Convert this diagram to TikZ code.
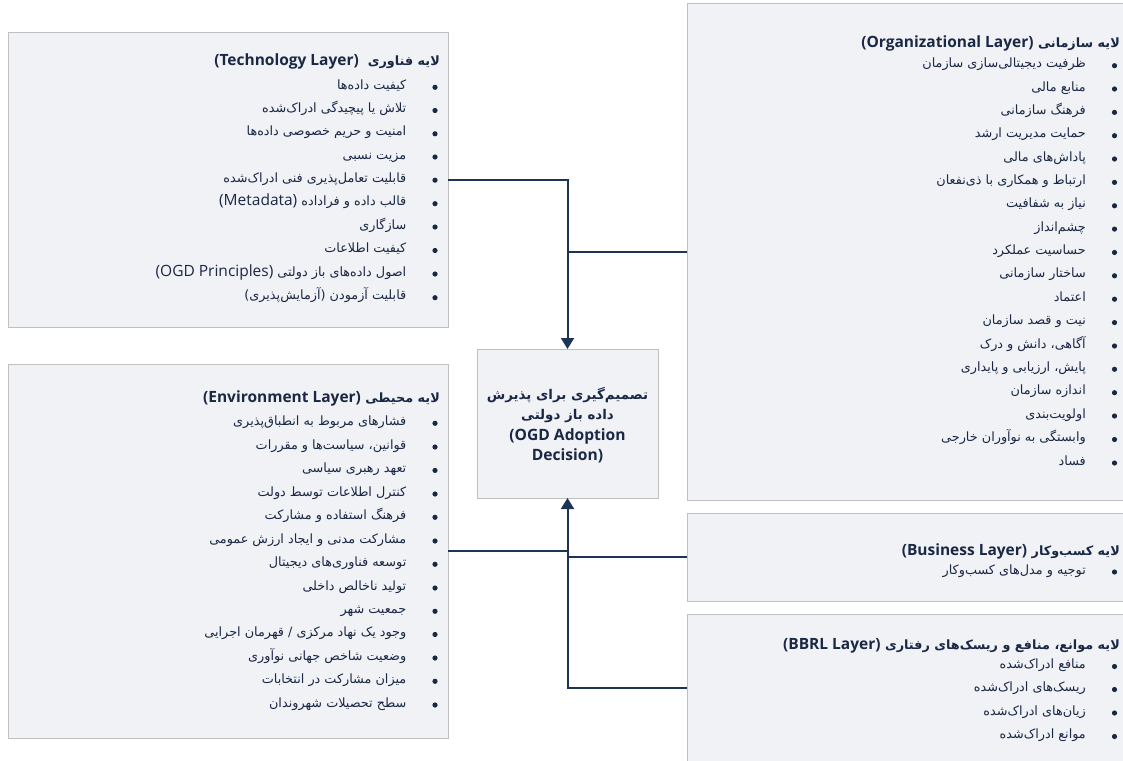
\documentclass[tikz,border=0pt]{standalone}
\usepackage{fontspec}
\usetikzlibrary{arrows.meta}
\TeXXeTstate=1
\newfontfamily\fa[Script=Arabic]{DejaVu Sans}
\newfontfamily\lat{Open Sans}
\definecolor{boxfill}{RGB}{240,242,245}
\definecolor{boxline}{RGB}{192,192,192}
\definecolor{navy}{RGB}{30,52,84}
\definecolor{txt}{RGB}{26,40,70}
\newcommand\latB{\lat\bfseries\fontsize{15.5}{16}\selectfont}
\newcommand\latR{\lat\fontsize{15.5}{16}\selectfont}
\newcommand\bitem[4]{%
  \node[bul] (#1b) at (#2,#3) {};
  \node[itm] (#1) at (#2-28.5,#3) {#4};}
\newcommand\ltitle[4]{%
  \node[ttl] (#1) at (#2,#3) {#4};}
\begin{document}
\begin{tikzpicture}[x=1pt,y=-1pt,
  box/.style={draw=boxline, fill=boxfill, line width=1pt, inner sep=0pt, outer sep=0pt},
  bul/.style={circle, fill=txt, minimum size=5.2pt, inner sep=0pt},
  itm/.style={anchor=mid east, inner sep=0pt, text=txt, font=\fa\fontsize{12.8}{15}\selectfont},
  ttl/.style={anchor=mid east, inner sep=0pt, text=txt, font=\fa\bfseries\fontsize{12.8}{15}\selectfont},
  conn/.style={draw=navy, line width=2pt},
  arr/.style={conn, -{Triangle[width=13pt,length=11pt]}},
]
\useasboundingbox (0,0) rectangle (1123,760);

% boxes
\node[box, minimum width=440pt, minimum height=294pt] (tech) at (228,180) {};
\node[box, minimum width=440pt, minimum height=374pt] (env) at (228,551) {};
\node[box, minimum width=450pt, minimum height=496pt] (org) at (912,252) {};
\node[box, minimum width=450pt, minimum height=88pt] (bus) at (912,557) {};
\node[box, minimum width=450pt, minimum height=148pt] (bbrl) at (912,688) {};
\node[box, minimum width=181pt, minimum height=149pt] (dec) at (567.5,423.5) {};

% decision text
\node[align=center, text=txt, inner sep=0pt, font=\fa\bfseries\fontsize{13.4}{20.5}\selectfont] (dect) at (567.5,425)
  {\beginR تصمیم‌گیری برای پذیرش\endR\\ \beginR داده باز دولتی\endR\\
   {\lat\bfseries\fontsize{15.6}{20.5}\selectfont (OGD Adoption}\\
   {\lat\bfseries\fontsize{15.6}{20.5}\selectfont Decision)}};

% connectors
\draw[arr] (tech.east) -| (dec.north);
\draw[conn] (org.west) -- (org.west -| dec.north);
\draw[conn] (env.east) -- (env.east -| dec.south);
\draw[conn] (bus.west) -- (bus.west -| dec.south);
\draw[arr] (bbrl.west) -| (dec.south);

% Technology layer
\ltitle{techt}{440}{63.5}{\beginR لایه فناوری \ \beginL{\latB (Technology Layer)}\endL\endR}
\bitem{t1}{435}{87.3}{\beginR کیفیت داده‌ها\endR}
\bitem{t2}{435}{110.5}{\beginR تلاش یا پیچیدگی ادراک‌شده\endR}
\bitem{t3}{435}{133.8}{\beginR امنیت و حریم خصوصی داده‌ها\endR}
\bitem{t4}{435}{157}{\beginR مزیت نسبی\endR}
\bitem{t5}{435}{180.2}{\beginR قابلیت تعامل‌پذیری فنی ادراک‌شده\endR}
\bitem{t6}{435}{203.7}{\beginR قالب داده و فراداده \beginL{\latR(Metadata)}\endL\endR}
\bitem{t7}{435}{227}{\beginR سازگاری\endR}
\bitem{t8}{435}{250.5}{\beginR کیفیت اطلاعات\endR}
\bitem{t9}{435}{274}{\beginR اصول داده‌های باز دولتی \beginL{\latR(OGD Principles)}\endL\endR}
\bitem{t10}{435}{297.7}{\beginR قابلیت آزمودن (آزمایش‌پذیری)\endR}

% Environment layer
\ltitle{envt}{440}{400}{\beginR لایه محیطی \beginL{\latB(Environment Layer)}\endL\endR}
\bitem{e1}{435}{423.3}{\beginR فشارهای مربوط به انطباق‌پذیری\endR}
\bitem{e2}{435}{447}{\beginR قوانین، سیاست‌ها و مقررات\endR}
\bitem{e3}{435}{470.4}{\beginR تعهد رهبری سیاسی\endR}
\bitem{e4}{435}{494}{\beginR کنترل اطلاعات توسط دولت\endR}
\bitem{e5}{435}{517.3}{\beginR فرهنگ استفاده و مشارکت\endR}
\bitem{e6}{435}{541}{\beginR مشارکت مدنی و ایجاد ارزش عمومی\endR}
\bitem{e7}{435}{564.3}{\beginR توسعه فناوری‌های دیجیتال\endR}
\bitem{e8}{435}{588}{\beginR تولید ناخالص داخلی\endR}
\bitem{e9}{435}{611.3}{\beginR جمعیت شهر\endR}
\bitem{e10}{435}{634.5}{\beginR وجود یک نهاد مرکزی / قهرمان اجرایی\endR}
\bitem{e11}{435}{658}{\beginR وضعیت شاخص جهانی نوآوری\endR}
\bitem{e12}{435}{681.3}{\beginR میزان مشارکت در انتخابات\endR}
\bitem{e13}{435}{705}{\beginR سطح تحصیلات شهروندان\endR}

% Organizational layer
\ltitle{orgt}{1120}{45}{\beginR لایه سازمانی \beginL{\latB(Organizational Layer)}\endL\endR}
\bitem{o1}{1114.5}{65.7}{\beginR ظرفیت دیجیتالی‌سازی سازمان\endR}
\bitem{o2}{1114.5}{89}{\beginR منابع مالی\endR}
\bitem{o3}{1114.5}{112.4}{\beginR فرهنگ سازمانی\endR}
\bitem{o4}{1114.5}{135.7}{\beginR حمایت مدیریت ارشد\endR}
\bitem{o5}{1114.5}{159}{\beginR پاداش‌های مالی\endR}
\bitem{o6}{1114.5}{182.4}{\beginR ارتباط و همکاری با ذی‌نفعان\endR}
\bitem{o7}{1114.5}{205.8}{\beginR نیاز به شفافیت\endR}
\bitem{o8}{1114.5}{229.1}{\beginR چشم‌انداز\endR}
\bitem{o9}{1114.5}{252.5}{\beginR حساسیت عملکرد\endR}
\bitem{o10}{1114.5}{275.8}{\beginR ساختار سازمانی\endR}
\bitem{o11}{1114.5}{299.2}{\beginR اعتماد\endR}
\bitem{o12}{1114.5}{322.6}{\beginR نیت و قصد سازمان\endR}
\bitem{o13}{1114.5}{346}{\beginR آگاهی، دانش و درک\endR}
\bitem{o14}{1114.5}{369.3}{\beginR پایش، ارزیابی و پایداری\endR}
\bitem{o15}{1114.5}{392.7}{\beginR اندازه سازمان\endR}
\bitem{o16}{1114.5}{416}{\beginR اولویت‌بندی\endR}
\bitem{o17}{1114.5}{439.5}{\beginR وابستگی به نوآوران خارجی\endR}
\bitem{o18}{1114.5}{463}{\beginR فساد\endR}

% Business layer
\ltitle{bust}{1120}{553}{\beginR لایه کسب‌وکار \beginL{\latB(Business Layer)}\endL\endR}
\bitem{b1}{1114.5}{572}{\beginR توجیه و مدل‌های کسب‌وکار\endR}

% BBRL layer
\ltitle{bbrlt}{1120}{647}{\beginR لایه موانع، منافع و ریسک‌های رفتاری \beginL{\latB(BBRL Layer)}\endL\endR}
\bitem{r1}{1114.5}{666.5}{\beginR منافع ادراک‌شده\endR}
\bitem{r2}{1114.5}{689.5}{\beginR ریسک‌های ادراک‌شده\endR}
\bitem{r3}{1114.5}{713}{\beginR زیان‌های ادراک‌شده\endR}
\bitem{r4}{1114.5}{736.5}{\beginR موانع ادراک‌شده\endR}
\end{tikzpicture}
\end{document}
